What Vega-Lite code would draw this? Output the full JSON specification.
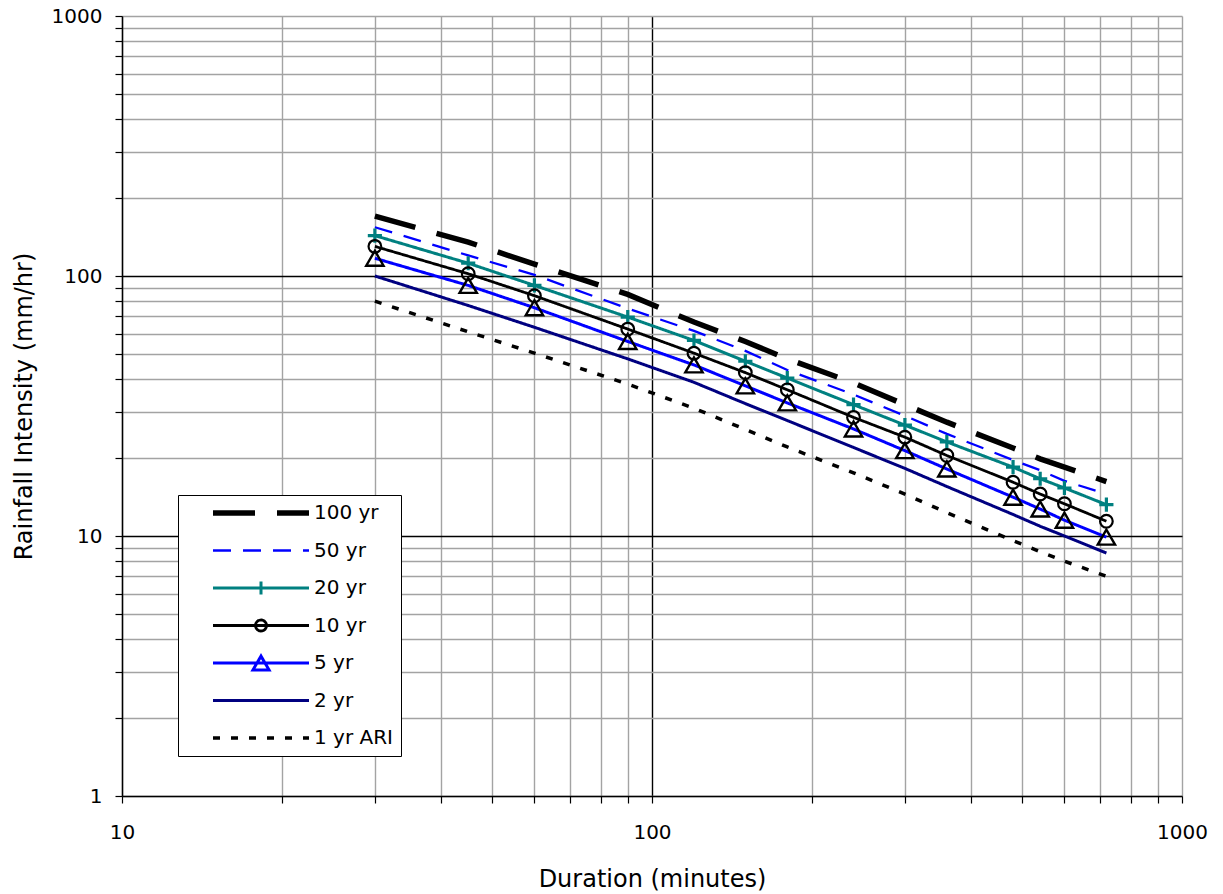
{
  "$schema": "https://vega.github.io/schema/vega-lite/v6.json",
  "width": 1060,
  "height": 780,
  "autosize": {"type": "none"},
  "padding": {"left": 122, "top": 16, "right": 41, "bottom": 98},
  "background": "white",
  "config": {
    "view": {"stroke": null},
    "font": "DejaVu Sans",
    "axis": {
      "labelFont": "DejaVu Sans",
      "labelFontSize": 20,
      "labelColor": "#000000",
      "titleFont": "DejaVu Sans",
      "titleFontSize": 24,
      "titleFontWeight": "normal",
      "titleColor": "#000000",
      "domainColor": "#000000",
      "domainWidth": 1.5,
      "tickColor": "#000000",
      "tickWidth": 1.2,
      "tickSize": 7,
      "gridWidth": 1.4,
      "labelOverlap": false,
      "labelFlush": false
    }
  },
  "data": {
    "values": [
      {"duration": 30, "series": "100 yr", "intensity": 170},
      {"duration": 45, "series": "100 yr", "intensity": 135},
      {"duration": 60, "series": "100 yr", "intensity": 111},
      {"duration": 90, "series": "100 yr", "intensity": 85},
      {"duration": 120, "series": "100 yr", "intensity": 66.5},
      {"duration": 150, "series": "100 yr", "intensity": 56},
      {"duration": 180, "series": "100 yr", "intensity": 48},
      {"duration": 240, "series": "100 yr", "intensity": 38.8},
      {"duration": 300, "series": "100 yr", "intensity": 32},
      {"duration": 360, "series": "100 yr", "intensity": 27.4},
      {"duration": 480, "series": "100 yr", "intensity": 21.8},
      {"duration": 540, "series": "100 yr", "intensity": 19.8},
      {"duration": 600, "series": "100 yr", "intensity": 18.4},
      {"duration": 720, "series": "100 yr", "intensity": 16.2},
      {"duration": 30, "series": "50 yr", "intensity": 154},
      {"duration": 45, "series": "50 yr", "intensity": 120},
      {"duration": 60, "series": "50 yr", "intensity": 101},
      {"duration": 90, "series": "50 yr", "intensity": 75},
      {"duration": 120, "series": "50 yr", "intensity": 61.5},
      {"duration": 150, "series": "50 yr", "intensity": 51.5},
      {"duration": 180, "series": "50 yr", "intensity": 43.5},
      {"duration": 240, "series": "50 yr", "intensity": 35},
      {"duration": 300, "series": "50 yr", "intensity": 29},
      {"duration": 360, "series": "50 yr", "intensity": 24.7},
      {"duration": 480, "series": "50 yr", "intensity": 19.6},
      {"duration": 540, "series": "50 yr", "intensity": 17.9},
      {"duration": 600, "series": "50 yr", "intensity": 16.3},
      {"duration": 720, "series": "50 yr", "intensity": 14.5},
      {"duration": 30, "series": "20 yr", "intensity": 143},
      {"duration": 45, "series": "20 yr", "intensity": 112},
      {"duration": 60, "series": "20 yr", "intensity": 92},
      {"duration": 90, "series": "20 yr", "intensity": 69.5},
      {"duration": 120, "series": "20 yr", "intensity": 56.5},
      {"duration": 150, "series": "20 yr", "intensity": 47},
      {"duration": 180, "series": "20 yr", "intensity": 40.5},
      {"duration": 240, "series": "20 yr", "intensity": 32},
      {"duration": 300, "series": "20 yr", "intensity": 26.7},
      {"duration": 360, "series": "20 yr", "intensity": 23},
      {"duration": 480, "series": "20 yr", "intensity": 18.4},
      {"duration": 540, "series": "20 yr", "intensity": 16.6},
      {"duration": 600, "series": "20 yr", "intensity": 15.3},
      {"duration": 720, "series": "20 yr", "intensity": 13.2},
      {"duration": 30, "series": "10 yr", "intensity": 130},
      {"duration": 45, "series": "10 yr", "intensity": 102},
      {"duration": 60, "series": "10 yr", "intensity": 84},
      {"duration": 90, "series": "10 yr", "intensity": 62.5},
      {"duration": 120, "series": "10 yr", "intensity": 50.5},
      {"duration": 150, "series": "10 yr", "intensity": 42.5},
      {"duration": 180, "series": "10 yr", "intensity": 36.5},
      {"duration": 240, "series": "10 yr", "intensity": 28.6},
      {"duration": 300, "series": "10 yr", "intensity": 24},
      {"duration": 360, "series": "10 yr", "intensity": 20.4},
      {"duration": 480, "series": "10 yr", "intensity": 16.1},
      {"duration": 540, "series": "10 yr", "intensity": 14.5},
      {"duration": 600, "series": "10 yr", "intensity": 13.3},
      {"duration": 720, "series": "10 yr", "intensity": 11.4},
      {"duration": 30, "series": "5 yr", "intensity": 117},
      {"duration": 45, "series": "5 yr", "intensity": 92},
      {"duration": 60, "series": "5 yr", "intensity": 75.5},
      {"duration": 90, "series": "5 yr", "intensity": 56},
      {"duration": 120, "series": "5 yr", "intensity": 45.5},
      {"duration": 150, "series": "5 yr", "intensity": 37.8},
      {"duration": 180, "series": "5 yr", "intensity": 32.5},
      {"duration": 240, "series": "5 yr", "intensity": 25.8},
      {"duration": 300, "series": "5 yr", "intensity": 21.3},
      {"duration": 360, "series": "5 yr", "intensity": 18.1},
      {"duration": 480, "series": "5 yr", "intensity": 14.1},
      {"duration": 540, "series": "5 yr", "intensity": 12.7},
      {"duration": 600, "series": "5 yr", "intensity": 11.5},
      {"duration": 720, "series": "5 yr", "intensity": 9.9},
      {"duration": 30, "series": "2 yr", "intensity": 100},
      {"duration": 45, "series": "2 yr", "intensity": 77},
      {"duration": 60, "series": "2 yr", "intensity": 63.5},
      {"duration": 90, "series": "2 yr", "intensity": 48},
      {"duration": 120, "series": "2 yr", "intensity": 39},
      {"duration": 150, "series": "2 yr", "intensity": 32.3},
      {"duration": 180, "series": "2 yr", "intensity": 27.8},
      {"duration": 240, "series": "2 yr", "intensity": 21.9},
      {"duration": 300, "series": "2 yr", "intensity": 18.2},
      {"duration": 360, "series": "2 yr", "intensity": 15.5},
      {"duration": 480, "series": "2 yr", "intensity": 12.1},
      {"duration": 540, "series": "2 yr", "intensity": 10.9},
      {"duration": 600, "series": "2 yr", "intensity": 10},
      {"duration": 720, "series": "2 yr", "intensity": 8.6},
      {"duration": 30, "series": "1 yr ARI", "intensity": 80},
      {"duration": 45, "series": "1 yr ARI", "intensity": 61},
      {"duration": 60, "series": "1 yr ARI", "intensity": 50.5},
      {"duration": 90, "series": "1 yr ARI", "intensity": 38.4},
      {"duration": 120, "series": "1 yr ARI", "intensity": 31},
      {"duration": 150, "series": "1 yr ARI", "intensity": 25.7},
      {"duration": 180, "series": "1 yr ARI", "intensity": 22},
      {"duration": 240, "series": "1 yr ARI", "intensity": 17.5},
      {"duration": 300, "series": "1 yr ARI", "intensity": 14.5},
      {"duration": 360, "series": "1 yr ARI", "intensity": 12.3},
      {"duration": 480, "series": "1 yr ARI", "intensity": 9.6},
      {"duration": 540, "series": "1 yr ARI", "intensity": 8.7},
      {"duration": 600, "series": "1 yr ARI", "intensity": 8},
      {"duration": 720, "series": "1 yr ARI", "intensity": 7}
    ]
  },
  "encoding": {
    "x": {
      "field": "duration",
      "type": "quantitative",
      "scale": {"type": "log", "domain": [10, 1000], "nice": false},
      "axis": {
        "title": "Duration (minutes)",
        "values": [10, 20, 30, 40, 50, 60, 70, 80, 90, 100, 200, 300, 400, 500, 600, 700, 800, 900, 1000],
        "labelExpr": "(datum.value === 10 || datum.value === 100 || datum.value === 1000) ? '' + datum.value : ''",
        "labelPadding": 19,
        "titlePadding": 25,
        "gridColor": {"condition": {"test": "datum.value === 100", "value": "#000000"}, "value": "#a3a3a3"}
      }
    },
    "y": {
      "field": "intensity",
      "type": "quantitative",
      "scale": {"type": "log", "domain": [1, 1000], "nice": false},
      "axis": {
        "title": "Rainfall Intensity (mm/hr)",
        "values": [1, 2, 3, 4, 5, 6, 7, 8, 9, 10, 20, 30, 40, 50, 60, 70, 80, 90, 100, 200, 300, 400, 500, 600, 700, 800, 900, 1000],
        "labelExpr": "(datum.value === 1 || datum.value === 10 || datum.value === 100 || datum.value === 1000) ? '' + datum.value : ''",
        "labelPadding": 13,
        "titlePadding": 15,
        "gridColor": {"condition": {"test": "datum.value === 10 || datum.value === 100", "value": "#000000"}, "value": "#a3a3a3"}
      }
    }
  },
  "layer": [
    {
      "mark": {"type": "line", "strokeCap": "butt", "strokeJoin": "miter"},
      "encoding": {
        "detail": {"field": "series", "type": "nominal"},
        "color": {
          "field": "series",
          "type": "nominal",
          "scale": {
            "domain": ["100 yr", "50 yr", "20 yr", "10 yr", "5 yr", "2 yr", "1 yr ARI"],
            "range": ["#000000", "#0000ff", "#008080", "#000000", "#0000ff", "#000080", "#000000"]
          },
          "legend": {
            "title": null,
            "orient": "none",
            "legendX": 56,
            "legendY": 479,
            "padding": 8,
            "strokeColor": "#000000",
            "fillColor": "#ffffff",
            "symbolType": "stroke",
            "symbolSize": 9216,
            "symbolOffset": 24,
            "clipHeight": 20,
            "rowPadding": 17.5,
            "labelOffset": 2,
            "labelFont": "DejaVu Sans",
            "labelFontSize": 20,
            "labelColor": "#000000",
            "labelLimit": 400,
            "encode": {
              "symbols": {
                "update": {
                  "shape": {"signal": "datum.value === '20 yr' ? 'M-1,0H1M0,-0.135V0.135' : datum.value === '10 yr' ? 'M-1,0H1M-0.115,0A0.115,0.115,0,1,1,0.115,0A0.115,0.115,0,1,1,-0.115,0' : datum.value === '5 yr' ? 'M-1,0H1M0,-0.144L0.167,0.144L-0.167,0.144Z' : 'stroke'"},
                  "fill": {"value": "transparent"}
                }
              }
            }
          }
        },
        "strokeDash": {
          "field": "series",
          "type": "nominal",
          "scale": {
            "domain": ["100 yr", "50 yr", "20 yr", "10 yr", "5 yr", "2 yr", "1 yr ARI"],
            "range": [[42, 22], [18, 12], [1, 0], [1, 0], [1, 0], [1, 0], [7, 11]]
          }
        },
        "strokeWidth": {
          "field": "series",
          "type": "nominal",
          "scale": {
            "type": "ordinal",
            "domain": ["100 yr", "50 yr", "20 yr", "10 yr", "5 yr", "2 yr", "1 yr ARI"],
            "range": [5.5, 2.3, 3, 2.8, 3, 3, 3.5]
          }
        }
      }
    },
    {
      "transform": [{"filter": {"field": "series", "equal": "20 yr"}}],
      "mark": {"type": "point", "filled": false, "opacity": 1, "shape": "M-1,0H1M0,-1V1", "stroke": "#008080", "strokeWidth": 3.2, "size": 200}
    },
    {
      "transform": [{"filter": {"field": "series", "equal": "10 yr"}}],
      "mark": {"type": "point", "filled": false, "opacity": 1, "shape": "circle", "stroke": "#000000", "strokeWidth": 2.2, "size": 160}
    },
    {
      "transform": [{"filter": {"field": "series", "equal": "5 yr"}}],
      "mark": {"type": "point", "filled": false, "opacity": 1, "shape": "triangle-up", "stroke": "#000000", "strokeWidth": 2.4, "size": 300}
    }
  ]
}
